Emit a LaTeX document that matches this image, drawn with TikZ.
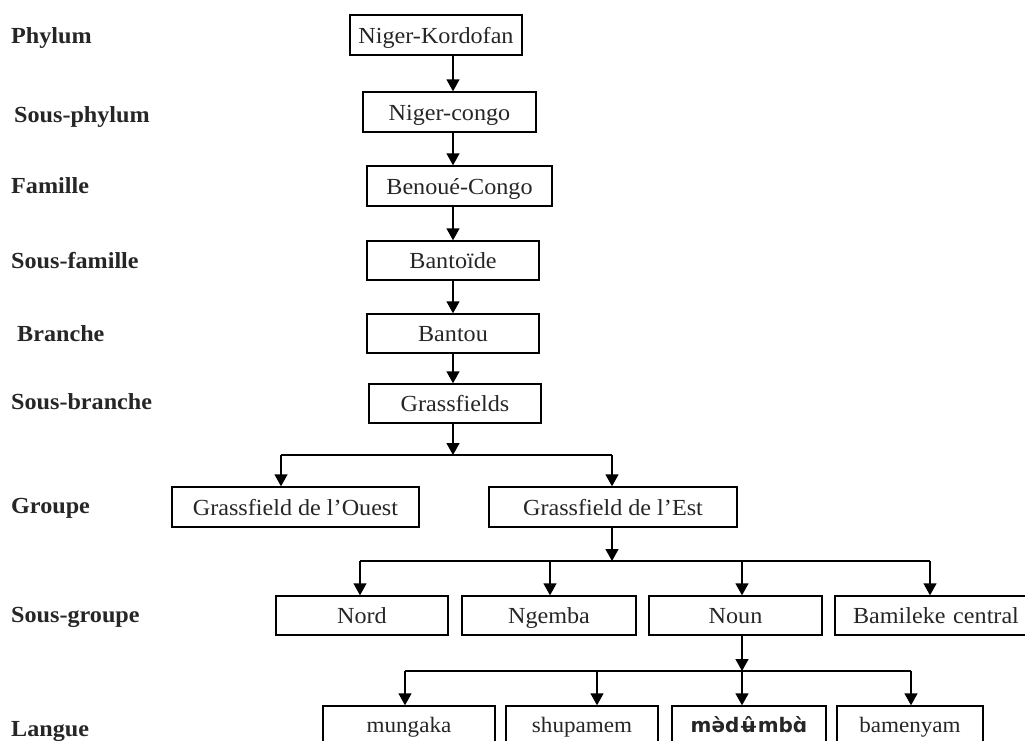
\documentclass[tikz,border=0pt]{standalone}
\usepackage{fontspec}
\setmainfont[FakeStretch=1.05]{Liberation Serif}
\newfontfamily\ipafont{DejaVu Sans}
\usetikzlibrary{arrows.meta}
\tikzset{
  box/.style={draw=black, line width=1.4pt, minimum height=40pt, inner sep=0pt,
    text height=18pt, text depth=2pt,
    font=\fontsize{23}{25}\selectfont, text=black!85},
  lbox/.style={box, text height=15pt, text depth=3pt, font=\fontsize{22}{24}\selectfont},
  lvl/.style={anchor=base west, inner sep=0pt, font=\fontsize{23}{25}\selectfont\bfseries, text=black!85},
  arr/.style={line width=1.4pt, -{Triangle[width=13pt,length=12pt]}},
  ln/.style={line width=1.4pt}
}
\begin{document}
\begin{tikzpicture}[x=1pt,y=-1pt]
\useasboundingbox (0,0) rectangle (1025,740);
\clip (0,0) rectangle (1025,740);
\fill[white] (0,0) rectangle (1025,740);
% level labels
\node[lvl] (l1) at (11,43) {Phylum};
\node[lvl] (l2) at (14,122) {Sous-phylum};
\node[lvl] (l3) at (11,193) {Famille};
\node[lvl] (l4) at (11,268) {Sous-famille};
\node[lvl] (l5) at (17,341) {Branche};
\node[lvl] (l6) at (11,409) {Sous-branche};
\node[lvl] (l7) at (11,513) {Groupe};
\node[lvl] (l8) at (11,622) {Sous-groupe};
\node[lvl] (l9) at (11,736) {Langue};
% boxes
\node[box, minimum width=172pt] (nk) at (436,35) {Niger-Kordofan};
\node[box, minimum width=173pt] (nc) at (449.5,112) {Niger-congo};
\node[box, minimum width=185pt] (bc) at (459.5,186) {Benoué-Congo};
\node[box, minimum width=172pt, minimum height=39pt] (bd) at (453,260.5) {Bantoïde};
\node[box, minimum width=172pt, minimum height=39pt] (bt) at (453,333.5) {Bantou};
\node[box, minimum width=172pt, minimum height=39pt] (gf) at (455,403.5) {Grassfields};
\node[box, minimum width=247pt] (go) at (295.5,507) {Grassfield de l’Ouest};
\node[box, minimum width=248pt] (ge) at (613,507) {Grassfield de l’Est};
\node[box, minimum width=172pt, minimum height=39pt] (nord) at (362,615.5) {Nord};
\node[box, minimum width=174pt, minimum height=39pt] (ngemba) at (549,615.5) {Ngemba};
\node[box, minimum width=173pt, minimum height=39pt] (noun) at (735.5,615.5) {Noun};
\node[box, minimum width=199pt, minimum height=39pt, text width=199pt, align=left] (bam) at (934.5,615.5) {\hspace*{18pt}Bamileke central};
\node[lbox, minimum width=172pt] (mun) at (409,726) {mungaka};
\node[lbox, minimum width=152pt] (shu) at (582,726) {shupamem};
\node[lbox, minimum width=154pt, font=\fontsize{20}{22}\selectfont\ipafont\bfseries] (med) at (749,726) {mə̀dʉ̂mbɑ̀};
\node[lbox, minimum width=146pt] (bmy) at (910,726) {bamenyam};
% connector coordinates
\coordinate (ax) at (453,0);
\coordinate (j1) at (453,455);
\coordinate (a1) at (281,455);
\coordinate (a2) at (612,455);
\coordinate (j2) at (612,561);
\coordinate (b1) at (360,561);
\coordinate (b2) at (550,561);
\coordinate (b3) at (742,561);
\coordinate (b4) at (930,561);
\coordinate (j3) at (742,671);
\coordinate (c1) at (405,671);
\coordinate (c2) at (597,671);
\coordinate (c3) at (742,671);
\coordinate (c4) at (911,671);
% vertical chain
\draw[arr] (nk.south -| ax) -- (nc.north -| ax);
\draw[arr] (nc.south -| ax) -- (bc.north -| ax);
\draw[arr] (bc.south -| ax) -- (bd.north -| ax);
\draw[arr] (bd.south -| ax) -- (bt.north -| ax);
\draw[arr] (bt.south -| ax) -- (gf.north -| ax);
% Grassfields split
\draw[arr] (gf.south -| ax) -- (j1);
\draw[ln] (a1) -- (a2);
\draw[arr] (a1) -- (go.north -| a1);
\draw[arr] (a2) -- (ge.north -| a2);
% Grassfield de l'Est split
\draw[arr] (ge.south -| j2) -- (j2);
\draw[ln] (b1) -- (b4);
\draw[arr] (b1) -- (nord.north -| b1);
\draw[arr] (b2) -- (ngemba.north -| b2);
\draw[arr] (b3) -- (noun.north -| b3);
\draw[arr] (b4) -- (bam.north -| b4);
% Noun split
\draw[arr] (noun.south -| j3) -- (j3);
\draw[ln] (c1) -- (c4);
\draw[arr] (c1) -- (mun.north -| c1);
\draw[arr] (c2) -- (shu.north -| c2);
\draw[arr] (c3) -- (med.north -| c3);
\draw[arr] (c4) -- (bmy.north -| c4);
\end{tikzpicture}
\end{document}
